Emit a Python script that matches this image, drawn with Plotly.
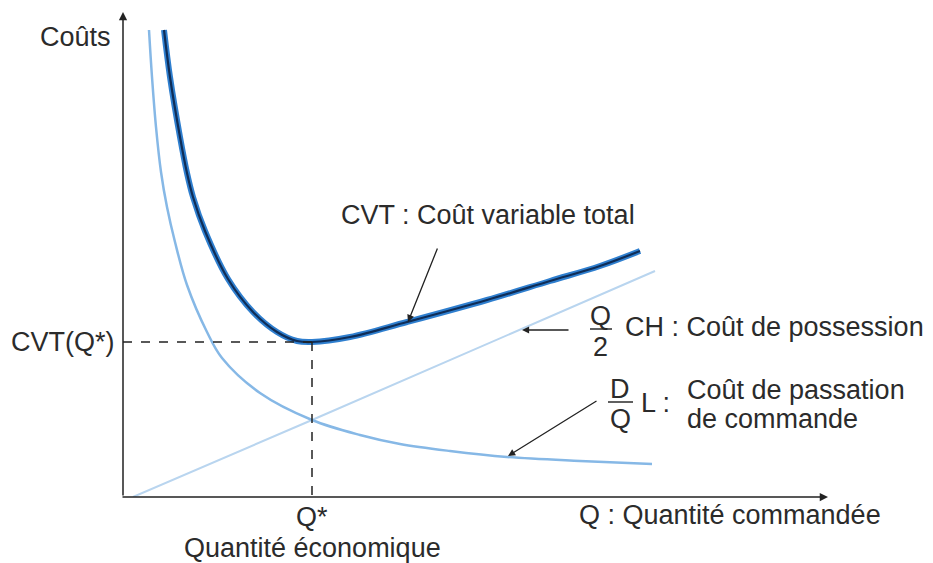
# Courbe du coût variable total (modèle de Wilson) - schéma
import plotly.graph_objects as go

q_passation = [26, 29, 33, 38, 44, 52, 64, 84, 99, 137, 189, 237, 277, 327, 384, 457, 529]
cout_passation = [467, 420, 370, 325, 290, 255, 212, 165, 139, 104, 77, 62, 53, 46, 40, 36, 33]

q_possession = [10, 189, 532]
cout_possession = [0, 77, 226]

q_total = [41, 47, 57, 64, 70, 82, 105, 130, 154, 174, 189, 227, 284, 364, 427, 477, 517]
cout_total = [467, 420, 360, 324, 300, 266, 218, 185, 165, 156, 155, 160, 175, 197, 216, 231, 246]

q_etoile = 189
cvt_etoile = 155

FONT = "Liberation Sans, Arial, sans-serif"
TXT = "#2b2b2b"
FS = 27

fig = go.Figure()

fig.add_trace(go.Scatter(x=q_possession, y=cout_possession, mode="lines",
                         line=dict(color="#b9d5ef", width=2), hoverinfo="skip"))
fig.add_trace(go.Scatter(x=q_passation, y=cout_passation, mode="lines", line_shape="spline",
                         line=dict(color="#86b8e6", width=2.5), hoverinfo="skip"))
# CVT : bande bleue avec un trait foncé au centre
fig.add_trace(go.Scatter(x=q_total, y=cout_total, mode="lines", line_shape="spline",
                         line=dict(color="#2f7fcf", width=6), hoverinfo="skip"))
fig.add_trace(go.Scatter(x=q_total, y=cout_total, mode="lines", line_shape="spline",
                         line=dict(color="#0f2d57", width=2.2), hoverinfo="skip"))

# pointillés vers Q* et CVT(Q*)
fig.add_trace(go.Scatter(x=[0, q_etoile], y=[cvt_etoile, cvt_etoile], mode="lines",
                         line=dict(color="#222", width=1.5, dash="dash"), hoverinfo="skip"))
fig.add_trace(go.Scatter(x=[q_etoile, q_etoile], y=[cvt_etoile, 0], mode="lines",
                         line=dict(color="#222", width=1.5, dash="dash"), hoverinfo="skip"))


def arrow(x, y, ax, ay, width=1.3):
    fig.add_annotation(x=x, y=y, ax=ax, ay=ay, xref="x", yref="y", axref="x", ayref="y",
                       showarrow=True, arrowhead=2, arrowsize=1.1, arrowwidth=width,
                       arrowcolor="#222", text="")


def label(x, y, text, xanchor="left", dx=0, dy=0, size=FS):
    fig.add_annotation(x=x, y=y, xref="x", yref="y", text=text, showarrow=False,
                       xanchor=xanchor, yanchor="middle", xshift=dx, yshift=dy,
                       font=dict(family=FONT, size=size, color=TXT))


# axes avec flèches
arrow(0, 485, 0, 0, width=1.5)
arrow(705, 0, -2, 0, width=1.5)

# flèches d'annotation
arrow(285, 175, 315, 250)
arrow(399, 167, 447, 167)
arrow(385, 41, 475, 97)

label(0, 460, "Coûts", "right", dx=-10)
label(0, cvt_etoile, "CVT(Q*)", "right", dx=-6)
label(q_etoile, 0, "Q*", "center", dy=-20)
label(q_etoile, 0, "Quantité économique", "center", dy=-51)
label(454, 0, "Q : Quantité commandée", dy=-18)
label(216, 282, "CVT : Coût variable total")

# Q/2 CH
label(477, 181, "Q", "center")
label(477, 150, "2", "center")
fig.add_shape(type="line", x0=467, x1=489, y0=168, y1=168, line=dict(color=TXT, width=1.5))
label(500, 170, "CH : Coût de possession")

# D/Q L
label(497, 108, "D", "center")
label(497, 78, "Q", "center")
fig.add_shape(type="line", x0=485, x1=510, y0=95, y1=95, line=dict(color=TXT, width=1.5))
label(516, 94, "L :")
label(562, 107, "Coût de passation")
label(562, 78, "de commande")

# la page ajoute une marge de 8 px autour du graphique
fig.update_layout(
    width=925, height=555,
    margin=dict(l=115, r=100, t=2, b=66),
    plot_bgcolor="white", paper_bgcolor="white",
    showlegend=False,
    xaxis=dict(range=[0, 710], visible=False, fixedrange=True),
    yaxis=dict(range=[0, 487], visible=False, fixedrange=True),
)

fig.write_html("out.html")
